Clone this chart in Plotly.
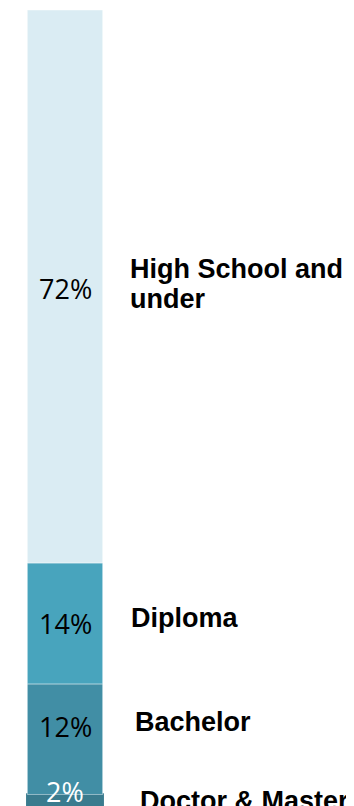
import plotly.graph_objects as go

# Data (bottom -> top of the stacked bar)
categories = ["Doctor & Master", "Bachelor", "Diploma", "High School and<br>under"]
share_labels = ["2%", "12%", "14%", "72%"]
# segment heights (in % scale units)
segment_values = [2.0, 14.4, 15.75, 72.0]

colors = ["#3A7B8E", "#418EA5", "#48A4BD", "#DAECF3"]
value_text_colors = ["white", "black", "black", "black"]
value_yshift = [11, 13, 0, -2]
label_x = [0.97, 0.9, 0.85, 0.836]
label_yshift = [1, 17, 5, 2]

fig = go.Figure()
base = 0.0
mids = []
for cat, val, col in zip(categories, segment_values, colors):
    is_bottom = cat == categories[0]
    fig.add_trace(go.Bar(
        x=[0], y=[val], base=[base], width=1.0,
        marker=dict(color=col,
                    line=dict(color=col if is_bottom else "rgba(255,255,255,0.45)",
                              width=2.5 if is_bottom else 1)),
        hoverinfo="skip", showlegend=False,
    ))
    mids.append(base + val / 2)
    base += val
total = base

annotations = []
for lab, m, tc, ys in zip(share_labels, mids, value_text_colors, value_yshift):
    annotations.append(dict(
        x=0, y=m, xref="x", yref="y", text=lab, showarrow=False,
        xanchor="center", yanchor="middle", yshift=ys,
        font=dict(family="Open Sans, Lato, sans-serif", size=27, color=tc),
    ))

line_gap = 30
for cat, m, lx, ys in zip(categories, mids, label_x, label_yshift):
    lines = cat.split("<br>")
    n = len(lines)
    for i, ln in enumerate(lines):
        off = ((n - 1) / 2 - i) * line_gap
        annotations.append(dict(
            x=lx, y=m, xref="x", yref="y", text="<b>" + ln + "</b>", showarrow=False,
            xanchor="left", yanchor="middle", yshift=ys + off,
            font=dict(family="Liberation Sans, Arial, sans-serif", size=27, color="black"),
        ))

fig.update_layout(
    width=346, height=798,
    margin=dict(l=0, r=0, t=2, b=0),
    paper_bgcolor="white", plot_bgcolor="white",
    barmode="overlay",
    annotations=annotations,
    xaxis=dict(range=[-0.756, 3.833], visible=False, fixedrange=True),
    yaxis=dict(range=[0.5, total], visible=False, fixedrange=True),
)

fig.write_html("out.html")
